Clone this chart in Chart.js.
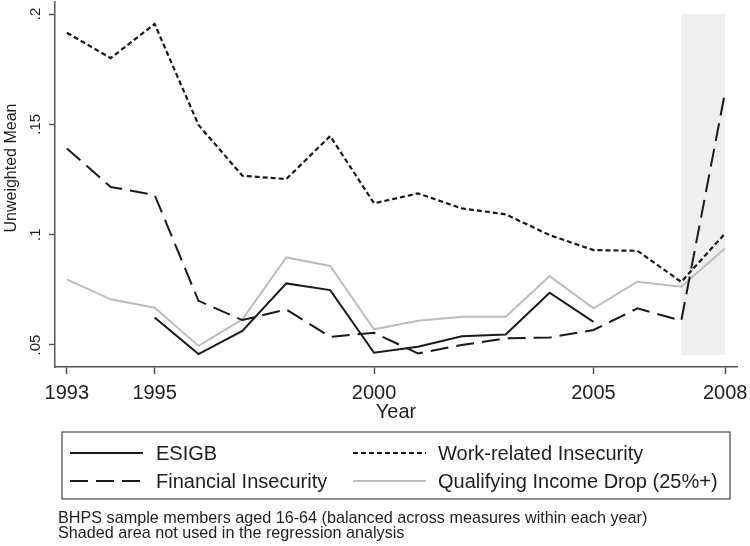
<!DOCTYPE html>
<html>
<head>
<meta charset="utf-8">
<script src="https://cdn.jsdelivr.net/npm/chart.js@4"></script>
<style>
  body { margin: 0; background: #fff; }
  canvas { display: block; }
</style>
</head>
<body>
<canvas id="insecurityChart" width="750" height="546"></canvas>
<script>
// Data
const years = [1993, 1994, 1995, 1996, 1997, 1998, 1999, 2000, 2001, 2002, 2003, 2004, 2005, 2006, 2007, 2008];
const esigb = [null, null, 0.0625, 0.0459, 0.0564, 0.0779, 0.0749, 0.0465, 0.0492, 0.0540, 0.0548, 0.0737, 0.0605, null, null, null];
const workInsecurity = [0.1915, 0.1800, 0.1955, 0.1497, 0.1267, 0.1252, 0.1447, 0.1142, 0.1187, 0.1119, 0.1092, 0.0998, 0.0930, 0.0927, 0.0786, 0.1006];
const financialInsecurity = [0.1391, 0.1216, 0.1180, 0.0700, 0.0613, 0.0661, 0.0537, 0.0555, 0.0462, 0.0500, 0.0530, 0.0534, 0.0568, 0.0666, 0.0610, 0.1648];
const incomeDrop = [0.0797, 0.0707, 0.0669, 0.0496, 0.0616, 0.0897, 0.0858, 0.0571, 0.0610, 0.0628, 0.0628, 0.0812, 0.0666, 0.0787, 0.0764, 0.0938];

const xTicks = [1993, 1995, 2000, 2005, 2008];
const yTicks = [0.05, 0.1, 0.15, 0.2];
const yTickLabels = ['.05', '.1', '.15', '.2'];

// shaded block (years and y-range)
const shadeYears = [2007, 2008];
const shadeRange = [0.0454, 0.2];

const notes = [
    'BHPS sample members aged 16-64 (balanced across measures within each year)',
    'Shaded area not used in the regression analysis'
];

const FONT = '"Liberation Sans", Arial, sans-serif';
const INK = '#1e1e1e';
Chart.defaults.font.family = FONT;

const toPoints = arr => years.map((yr, i) => ({ x: yr, y: arr[i] }));

// grey box behind the lines
const shadePlugin = {
    id: 'shade',
    beforeDatasetsDraw(chart) {
        const { ctx, scales: { x, y } } = chart;
        const x0 = x.getPixelForValue(shadeYears[0]);
        const x1 = x.getPixelForValue(shadeYears[1]);
        const y0 = y.getPixelForValue(shadeRange[1]);
        const y1 = y.getPixelForValue(shadeRange[0]);
        ctx.save();
        ctx.fillStyle = '#efefef';
        ctx.fillRect(x0, y0, x1 - x0, y1 - y0);
        ctx.restore();
    }
};

// rotated y tick labels, y title, boxed two-column legend and the notes
const extrasPlugin = {
    id: 'extras',
    afterDraw(chart) {
        const ctx = chart.ctx;
        const yScale = chart.scales.y;
        ctx.save();
        ctx.fillStyle = INK;

        // y tick labels, centred on their ticks
        ctx.font = '15px ' + FONT;
        ctx.textAlign = 'center';
        ctx.textBaseline = 'alphabetic';
        yScale.ticks.forEach(t => {
            ctx.setTransform(1, 0, 0, 1, 40, yScale.getPixelForValue(t.value));
            ctx.rotate(-Math.PI / 2);
            ctx.fillText(yTickLabels[yTicks.indexOf(t.value)], 0, 0);
        });

        // y axis title
        ctx.font = '16px ' + FONT;
        ctx.setTransform(1, 0, 0, 1, 16, 168);
        ctx.rotate(-Math.PI / 2);
        ctx.fillText('Unweighted Mean', 0, 0);
        ctx.setTransform(1, 0, 0, 1, 0, 0);

        // legend box
        ctx.strokeStyle = '#444';
        ctx.lineWidth = 1.2;
        ctx.strokeRect(62, 432, 668, 67);

        const ds = chart.data.datasets;
        const slots = [
            { d: ds[0], x: 70, tx: 156, y: 453 },
            { d: ds[1], x: 353, tx: 438, y: 453 },
            { d: ds[2], x: 70, tx: 156, y: 481 },
            { d: ds[3], x: 353, tx: 438, y: 481 }
        ];
        ctx.font = '20px ' + FONT;
        ctx.textAlign = 'left';
        ctx.textBaseline = 'middle';
        slots.forEach(s => {
            ctx.beginPath();
            ctx.setLineDash(s.d.borderDash || []);
            ctx.strokeStyle = s.d.borderColor;
            ctx.lineWidth = s.d.borderWidth;
            ctx.moveTo(s.x, s.y);
            ctx.lineTo(s.x + 73, s.y);
            ctx.stroke();
            ctx.setLineDash([]);
            ctx.fillStyle = INK;
            ctx.fillText(s.d.label, s.tx, s.y + 1);
        });

        // notes
        ctx.font = '16.2px ' + FONT;
        ctx.textBaseline = 'alphabetic';
        notes.forEach((line, i) => ctx.fillText(line, 58, 523 + i * 15));
        ctx.restore();
    }
};

const ctx = document.getElementById('insecurityChart').getContext('2d');
new Chart(ctx, {
    type: 'line',
    data: {
        datasets: [
            { label: 'ESIGB', data: toPoints(esigb), borderColor: '#1a1a1a', borderWidth: 2 },
            { label: 'Work-related Insecurity', data: toPoints(workInsecurity), borderColor: '#1a1a1a', borderWidth: 2.2, borderDash: [5, 3] },
            { label: 'Financial Insecurity', data: toPoints(financialInsecurity), borderColor: '#1a1a1a', borderWidth: 2, borderDash: [18, 8] },
            { label: 'Qualifying Income Drop (25%+)', data: toPoints(incomeDrop), borderColor: '#bdbdbd', borderWidth: 2 }
        ]
    },
    options: {
        responsive: false,
        animation: false,
        spanGaps: false,
        elements: {
            point: { radius: 0, hoverRadius: 0 },
            line: { tension: 0, fill: false }
        },
        layout: {
            padding: { top: 2, right: 13, bottom: 122, left: 0 }
        },
        scales: {
            x: {
                type: 'linear',
                min: 1992.73,
                max: 2008.27,
                afterBuildTicks: scale => { scale.ticks = xTicks.map(v => ({ value: v })); },
                afterFit: scale => {
                    scale.height = 57;
                    // labels fit inside the fixed margins already
                    scale.paddingLeft = 0;
                    scale.paddingRight = 0;
                },
                ticks: {
                    autoSkip: false,
                    maxRotation: 0,
                    padding: 7,
                    color: INK,
                    font: { size: 20 },
                    callback: v => String(v)
                },
                grid: { drawOnChartArea: false, tickLength: 7, tickColor: '#555', tickWidth: 1.5 },
                border: { color: '#555', width: 1.5 },
                title: { display: true, text: 'Year', color: INK, font: { size: 20 }, padding: 0 }
            },
            y: {
                min: 0.04003,
                max: 0.20544,
                afterBuildTicks: scale => { scale.ticks = yTicks.map(v => ({ value: v })); },
                afterFit: scale => { scale.width = 55; },
                ticks: { display: false },
                grid: { drawOnChartArea: false, tickLength: 6, tickColor: '#555', tickWidth: 1.5 },
                border: { color: '#555', width: 1.5 }
            }
        },
        plugins: {
            legend: { display: false },
            tooltip: { enabled: false }
        }
    },
    plugins: [shadePlugin, extrasPlugin]
});
</script>
</body>
</html>
